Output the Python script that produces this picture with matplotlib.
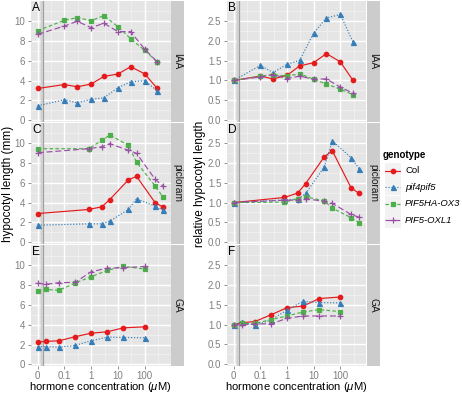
import numpy as np
import matplotlib
matplotlib.use("Agg")
import matplotlib.pyplot as plt

plt.rcParams['font.family'] = ['Liberation Sans', 'DejaVu Sans']
plt.rcParams['mathtext.fontset'] = 'custom'
plt.rcParams['mathtext.rm'] = 'Liberation Sans'
plt.rcParams['mathtext.it'] = 'Liberation Sans:italic'

genotypes = ["Col", "pif4pif5", "PIF5HA-OX3", "PIF5-OXL1"]
colors = ["#E41A1C", "#377EB8", "#4DAF4A", "#984EA3"]
markers = ["o", "^", "s", "+"]
linestyles = ["-", (0, (1, 1.5)), (0, (3, 2)), (0, (5, 2.5))]

# concentrations (uM); 0 drawn at the 0.01 position
conc_iaa = [0, 0.1, 0.3, 1, 3, 10, 30, 100, 300]
conc_pic = [0, 0.8, 2.5, 5, 25, 50, 250, 500]
conc_ga = [0, 0.02, 0.0625, 0.25, 1, 4, 16, 100]

# absolute hypocotyl length (mm)
iaa_col = [3.2, 3.6, 3.37, 3.65, 4.42, 4.66, 5.4, 4.69, 3.2]
iaa_pif45 = [1.45, 2.06, 1.75, 2.1, 2.26, 3.27, 3.88, 3.98, 2.97]
iaa_ox3 = [9.05, 10.1, 10.37, 10.06, 10.57, 9.45, 8.24, 7.06, 5.88]
iaa_oxl1 = [8.68, 9.52, 10.0, 9.35, 9.8, 8.95, 8.95, 7.19, 5.88]

pic_col = [2.9, 3.31, 3.58, 4.32, 6.32, 6.66, 3.99, 3.55]
pic_pif45 = [1.72, 1.86, 1.86, 2.13, 3.31, 4.39, 3.65, 3.24]
pic_ox3 = [9.46, 9.46, 10.3, 10.84, 9.8, 8.1, 5.68, 4.53]
pic_oxl1 = [9.05, 9.46, 9.66, 9.97, 9.29, 8.99, 6.35, 5.68]

ga_col = [2.25, 2.32, 2.38, 2.79, 3.15, 3.29, 3.69, 3.79]
ga_pif45 = [1.78, 1.78, 1.74, 1.91, 2.38, 2.75, 2.72, 2.68]
ga_ox3 = [7.38, 7.58, 7.48, 8.22, 8.86, 9.5, 9.93, 9.63]
ga_oxl1 = [8.22, 8.09, 8.26, 8.29, 9.36, 9.73, 9.77, 9.9]

# relative hypocotyl length
iaa_col_rel = [1.0, 1.11, 1.04, 1.13, 1.37, 1.45, 1.68, 1.47, 1.0]
iaa_pif45_rel = [1.0, 1.38, 1.2, 1.41, 1.51, 2.2, 2.58, 2.67, 1.97]
iaa_ox3_rel = [1.0, 1.11, 1.15, 1.11, 1.17, 1.03, 0.91, 0.78, 0.64]
iaa_oxl1_rel = [1.0, 1.09, 1.15, 1.05, 1.11, 1.03, 1.04, 0.83, 0.68]

pic_col_rel = [1.0, 1.13, 1.24, 1.48, 2.16, 2.31, 1.38, 1.23]
pic_pif45_rel = [1.0, 1.07, 1.08, 1.23, 1.9, 2.56, 2.14, 1.86]
pic_ox3_rel = [1.0, 1.01, 1.1, 1.15, 1.04, 0.86, 0.62, 0.49]
pic_oxl1_rel = [1.0, 1.06, 1.06, 1.1, 1.03, 0.98, 0.7, 0.63]

ga_col_rel = [1.0, 1.05, 1.08, 1.25, 1.43, 1.47, 1.66, 1.7]
ga_pif45_rel = [1.0, 1.07, 0.98, 1.12, 1.37, 1.59, 1.56, 1.55]
ga_ox3_rel = [1.0, 1.03, 1.03, 1.13, 1.22, 1.32, 1.38, 1.33]
ga_oxl1_rel = [1.0, 0.99, 1.02, 1.02, 1.16, 1.22, 1.22, 1.22]

hormones = ["IAA", "picloram", "GA"]
concs = [conc_iaa, conc_pic, conc_ga]
abs_data = [[iaa_col, iaa_pif45, iaa_ox3, iaa_oxl1],
            [pic_col, pic_pif45, pic_ox3, pic_oxl1],
            [ga_col, ga_pif45, ga_ox3, ga_oxl1]]
rel_data = [[iaa_col_rel, iaa_pif45_rel, iaa_ox3_rel, iaa_oxl1_rel],
            [pic_col_rel, pic_pif45_rel, pic_ox3_rel, pic_oxl1_rel],
            [ga_col_rel, ga_pif45_rel, ga_ox3_rel, ga_oxl1_rel]]
panel_letters = [["A", "B"], ["C", "D"], ["E", "F"]]

xtick_vals = [0, 0.1, 1, 10, 100]
xtick_labels = ["0", "0.1", "1", "10", "100"]


def xpos(c):
    c = np.asarray(c, dtype=float)
    return np.log10(np.where(c == 0, 0.01, c))


W, H = 462, 394
fig = plt.figure(figsize=(W / 100, H / 100), dpi=100)

def rect(x0, y0, x1, y1):
    return [x0 / W, 1 - y1 / H, (x1 - x0) / W, (y1 - y0) / H]

row_tops = [1.0, 123.1, 245.2]
row_h = 120.6
col_x = [(30.5, 170.5, 171.2, 183.6), (226.5, 366.2, 367.0, 380.0)]

grey_txt = "#7F7F7F"
xlim = (-2.27, 2.97)
ylims = [(-0.15, 12.05), (-0.04, 3.01)]
ymaj = [np.arange(0, 11, 2), np.arange(0, 2.6, 0.5)]
ymin_ = [np.arange(1, 12, 2), np.arange(0.25, 3.0, 0.5)]
ylabels = [["0", "2", "4", "6", "8", "10"], ["0.0", "0.5", "1.0", "1.5", "2.0", "2.5"]]

def msize(m):
    return 5.0 if m == "+" else (3.6 if m == "^" else 3.2)

for r in range(3):
    for c in range(2):
        px0, px1, sx0, sx1 = col_x[c]
        top = row_tops[r]
        ax = fig.add_axes(rect(px0, top, px1, top + row_h))
        ax.set_facecolor("#E5E5E5")
        for s in ax.spines.values():
            s.set_visible(False)
        ax.set_xlim(*xlim)
        ax.set_ylim(*ylims[c])
        # grid
        for v in [-1.5, -0.5, 0.5, 1.5, 2.5]:
            ax.axvline(v, color="#F2F2F2", lw=0.5, zorder=0)
        for v in ymin_[c]:
            ax.axhline(v, color="#F2F2F2", lw=0.5, zorder=0)
        for v in xpos(xtick_vals):
            ax.axvline(v, color="white", lw=1.0, zorder=0)
        for v in ymaj[c]:
            ax.axhline(v, color="white", lw=1.0, zorder=0)
        # axis break marker
        ax.axvline(-1.875, color="#A0A0A0", lw=0.9, zorder=1)
        ax.axvline(-1.80, color="#A0A0A0", lw=0.9, zorder=1)
        ax.axvspan(-1.875, -1.80, color="#D0D0D0", lw=0, zorder=1)

        data = abs_data[r] if c == 0 else rel_data[r]
        xs = xpos(concs[r])
        for g in range(4):
            ax.plot(xs, data[g], color=colors[g], ls=linestyles[g], lw=0.85,
                    marker=markers[g], ms=msize(markers[g]),
                    mew=0.9, zorder=3 + g * 0.1)

        ax.set_xticks(xpos(xtick_vals))
        ax.set_yticks(ymaj[c])
        ax.set_yticklabels(ylabels[c])
        ax.tick_params(axis="both", colors=grey_txt, labelcolor=grey_txt,
                       labelsize=7.0, length=2.5, width=0.6, pad=1.2)
        if r == 2:
            ax.set_xticklabels(xtick_labels)
        else:
            ax.tick_params(axis="x", length=0, labelbottom=False)

        ax.text(0.01, 0.993, panel_letters[r][c], transform=ax.transAxes,
                ha="left", va="top", fontsize=8.6, color="black")

        # strip
        sax = fig.add_axes(rect(sx0, top, sx1, top + row_h))
        sax.set_facecolor("#CCCCCC")
        sax.set_xticks([]); sax.set_yticks([])
        for s in sax.spines.values():
            s.set_visible(False)
        sax.text(0.5, 0.5, hormones[r], rotation=-90, ha="center", va="center",
                 fontsize=7.3, color="#1A1A1A", transform=sax.transAxes)

# axis titles
fig.text(8 / W, 1 - 183.5 / H, "hypocotyl length (mm)", rotation=90,
         ha="center", va="center", fontsize=8.5)
fig.text(200 / W, 1 - 183.5 / H, "relative hypocotyl length", rotation=90,
         ha="center", va="center", fontsize=8.5)
for cx in [100.5, 296.5]:
    fig.text(cx / W, 1 - 386.5 / H, r"hormone concentration ($\mathit{\mu}$M)",
             ha="center", va="center", fontsize=8.1)

# legend
fig.text(383 / W, 1 - 155 / H, "genotype", fontsize=7.0, fontweight="bold",
         ha="left", va="center")
leg_y = [170.7, 187.2, 203.7, 220.2]
for g in range(4):
    y = leg_y[g]
    kax = fig.add_axes(rect(384.5, y - 8, 401, y + 8))
    kax.set_facecolor("#F2F2F2")
    kax.set_xlim(0, 1); kax.set_ylim(0, 1)
    kax.set_xticks([]); kax.set_yticks([])
    for s in kax.spines.values():
        s.set_visible(False)
    kax.plot([0.05, 0.95], [0.5, 0.5], color=colors[g], ls=linestyles[g], lw=0.85)
    kax.plot([0.5], [0.5], color=colors[g], marker=markers[g],
             ms=msize(markers[g]), mew=0.9)
    fig.text(405 / W, 1 - y / H, genotypes[g], fontsize=6.8,
             style="normal" if g == 0 else "italic", ha="left", va="center")

fig.savefig("out.png", dpi=100)
